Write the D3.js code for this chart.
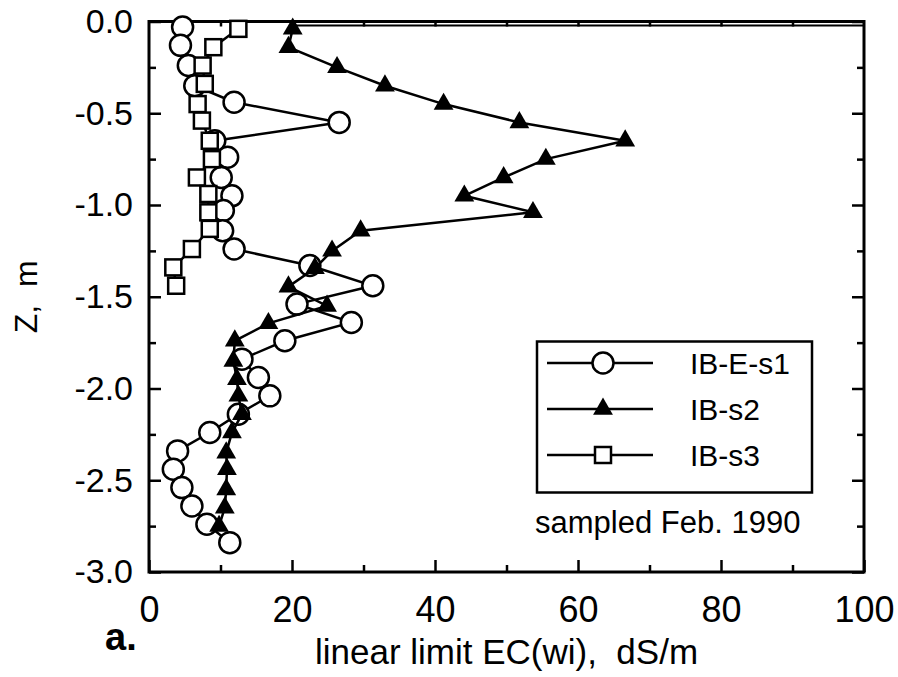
<!DOCTYPE html>
<html>
<head>
<meta charset="utf-8">
<script src="https://cdn.jsdelivr.net/npm/d3@7"></script>
<style>
  body { margin: 0; background: #fff; }
  svg { font-family: "Liberation Sans", Arial, sans-serif; }
</style>
</head>
<body>
<svg id="chart" width="898" height="677"></svg>
<script>
// depth (m) and linear limit EC(wi) (dS/m)
const depthS1 = [-0.03, -0.13, -0.24, -0.35, -0.44, -0.55, -0.65, -0.74, -0.85, -0.95, -1.03, -1.14, -1.24, -1.33, -1.44,
  -1.54, -1.64, -1.74, -1.84, -1.94, -2.04, -2.14, -2.24, -2.34, -2.44, -2.54, -2.64, -2.74, -2.84];
const ecS1 = [4.7, 4.4, 5.5, 6.4, 11.9, 26.6, 9.2, 11.0, 10.1, 11.6, 10.4, 10.3, 11.9, 22.5, 31.3,
  20.7, 28.3, 19.0, 13.0, 15.3, 16.9, 12.5, 8.5, 4.0, 3.4, 4.6, 6.0, 8.1, 11.3];

const depthS2 = [-0.04, -0.14, -0.25, -0.35, -0.45, -0.55, -0.65, -0.75, -0.85, -0.95, -1.04, -1.14, -1.25, -1.345,
  -1.445, -1.55, -1.645, -1.74, -1.85, -1.95, -2.04, -2.14, -2.24, -2.35, -2.44, -2.55, -2.65, -2.75];
const ecS2 = [20.1, 19.5, 26.3, 33.0, 41.2, 51.8, 66.6, 55.5, 49.6, 44.1, 53.7, 29.6, 25.6, 23.2,
  19.5, 24.9, 16.7, 12.0, 11.8, 12.3, 12.5, 13.0, 11.6, 10.8, 10.9, 10.8, 10.6, 9.8];

const depthS3 = [-0.04, -0.14, -0.24, -0.34, -0.45, -0.54, -0.65, -0.75, -0.85, -0.94, -1.04, -1.13, -1.24, -1.34, -1.44];
const ecS3 = [12.5, 9.0, 7.5, 7.8, 6.8, 7.4, 8.5, 8.8, 6.7, 8.3, 8.3, 8.5, 6.0, 3.4, 3.8];

const seriesNames = ["IB-E-s1", "IB-s2", "IB-s3"];
const seriesShapes = ["circle", "triangle", "square"];
const xMajorTicks = [0, 20, 40, 60, 80, 100];
const xMinorTicks = [10, 30, 50, 70, 90];
const yMajorTicks = [0, -0.5, -1.0, -1.5, -2.0, -2.5, -3.0];
const yMinorTicks = [-0.25, -0.75, -1.25, -1.75, -2.25, -2.75];

const margin = { top: 21.5, right: 34, bottom: 105, left: 149 };
const width = 898 - margin.left - margin.right;
const height = 677 - margin.top - margin.bottom;

const svg = d3.select("#chart")
  .append("g")
  .attr("transform", `translate(${margin.left}, ${margin.top})`);

const x = d3.scaleLinear().domain([0, 100]).range([0, width]);
const y = d3.scaleLinear().domain([-3, 0]).range([height, 0]);

const fmtY = (d) => d.toFixed(1); // keeps a plain hyphen for negatives

// ticks point inward on all four sides
const addAxis = (axis, transform) => {
  const g = svg.append("g").attr("transform", transform).call(axis);
  g.select(".domain").remove();
  g.selectAll(".tick line").attr("stroke", "#000").attr("stroke-width", 2.5);
  return g;
};

addAxis(d3.axisBottom(x).tickValues(xMinorTicks).tickSize(-7).tickFormat(""), `translate(0, ${height})`);
addAxis(d3.axisBottom(x).tickValues(xMajorTicks).tickSize(-12).tickPadding(24).tickFormat(d3.format("d")), `translate(0, ${height})`)
  .selectAll("text").attr("fill", "#000").style("font-size", "36px");

addAxis(d3.axisLeft(y).tickValues(yMinorTicks).tickSize(-7).tickFormat(""), "translate(0, 0)");
addAxis(d3.axisLeft(y).tickValues(yMajorTicks).tickSize(-12).tickPadding(16).tickFormat(fmtY), "translate(0, 0)")
  .selectAll("text").attr("fill", "#000").style("font-size", "34px");

addAxis(d3.axisRight(y).tickValues(yMinorTicks).tickSize(-7).tickFormat(""), `translate(${width}, 0)`);
addAxis(d3.axisRight(y).tickValues(yMajorTicks).tickSize(-12).tickFormat(""), `translate(${width}, 0)`);

addAxis(d3.axisTop(x).tickValues(xMinorTicks.concat([20, 40, 60, 80])).tickSize(-5).tickFormat(""), "translate(0, 0)");

// plot frame
svg.append("rect")
  .attr("x", 0).attr("y", 0)
  .attr("width", width).attr("height", height)
  .attr("fill", "none")
  .attr("stroke", "#000")
  .attr("stroke-width", 3);

// the scanned top edge is doubled on its right part
svg.append("line")
  .attr("x1", x(20.5)).attr("x2", width)
  .attr("y1", 4).attr("y2", 4)
  .attr("stroke", "#000")
  .attr("stroke-width", 2);

const line = d3.line().x((d) => x(d.ec)).y((d) => y(d.z));

const makeSeries = (depths, values) => depths.map((z, i) => ({ z: z, ec: values[i] }));
const series = [
  makeSeries(depthS1, ecS1),
  makeSeries(depthS2, ecS2),
  makeSeries(depthS3, ecS3)
];

const triPath = d3.symbol(d3.symbolTriangle, 170)();

const drawMarker = (sel, shape) => {
  if (shape === "circle") {
    sel.append("circle").attr("r", 10.5)
      .attr("fill", "#fff").attr("stroke", "#000").attr("stroke-width", 2.5);
  } else if (shape === "square") {
    sel.append("rect").attr("x", -8).attr("y", -8).attr("width", 16).attr("height", 16)
      .attr("fill", "#fff").attr("stroke", "#000").attr("stroke-width", 2.5);
  } else {
    sel.append("path").attr("d", triPath).attr("fill", "#000");
  }
};

// draw order: circles, squares, triangles on top
[0, 2, 1].forEach((k) => {
  svg.append("path")
    .datum(series[k])
    .attr("fill", "none")
    .attr("stroke", "#000")
    .attr("stroke-width", 2.5)
    .attr("d", line);

  const pts = svg.selectAll(`.pt-${k}`)
    .data(series[k])
    .enter()
    .append("g")
    .attr("class", `pt-${k}`)
    .attr("transform", (d) => `translate(${x(d.ec)}, ${y(d.z)})`);
  drawMarker(pts, seriesShapes[k]);
});

// legend
const legend = svg.append("g").attr("transform", "translate(388, 320)");
legend.append("rect")
  .attr("width", 275).attr("height", 151)
  .attr("fill", "#fff")
  .attr("stroke", "#000")
  .attr("stroke-width", 2.5);

const rows = legend.selectAll(".legend-row")
  .data(seriesNames)
  .enter()
  .append("g")
  .attr("class", "legend-row")
  .attr("transform", (d, i) => `translate(0, ${21.5 + i * 46})`);

rows.append("line")
  .attr("x1", 10).attr("x2", 116)
  .attr("stroke", "#000").attr("stroke-width", 2.5);

rows.each(function (d, i) {
  drawMarker(d3.select(this).append("g").attr("transform", "translate(66, 0)"), seriesShapes[i]);
});

rows.append("text")
  .attr("x", 153)
  .attr("y", 11)
  .style("font-size", "30px")
  .text((d) => d);

svg.append("text")
  .attr("x", 386)
  .attr("y", 511.5)
  .style("font-size", "31px")
  .text("sampled Feb. 1990");

// axis titles
svg.append("text")
  .attr("x", width / 2)
  .attr("y", height + 92)
  .attr("text-anchor", "middle")
  .style("font-size", "35px")
  .style("white-space", "pre")
  .text("linear limit EC(wi),  dS/m");

svg.append("text")
  .attr("transform", `translate(${-112}, ${height / 2}) rotate(-90)`)
  .attr("text-anchor", "middle")
  .style("font-size", "32px")
  .style("white-space", "pre")
  .text("Z,  m");

svg.append("text")
  .attr("x", -44)
  .attr("y", height + 78)
  .style("font-size", "38px")
  .style("font-weight", "bold")
  .text("a.");
</script>
</body>
</html>
